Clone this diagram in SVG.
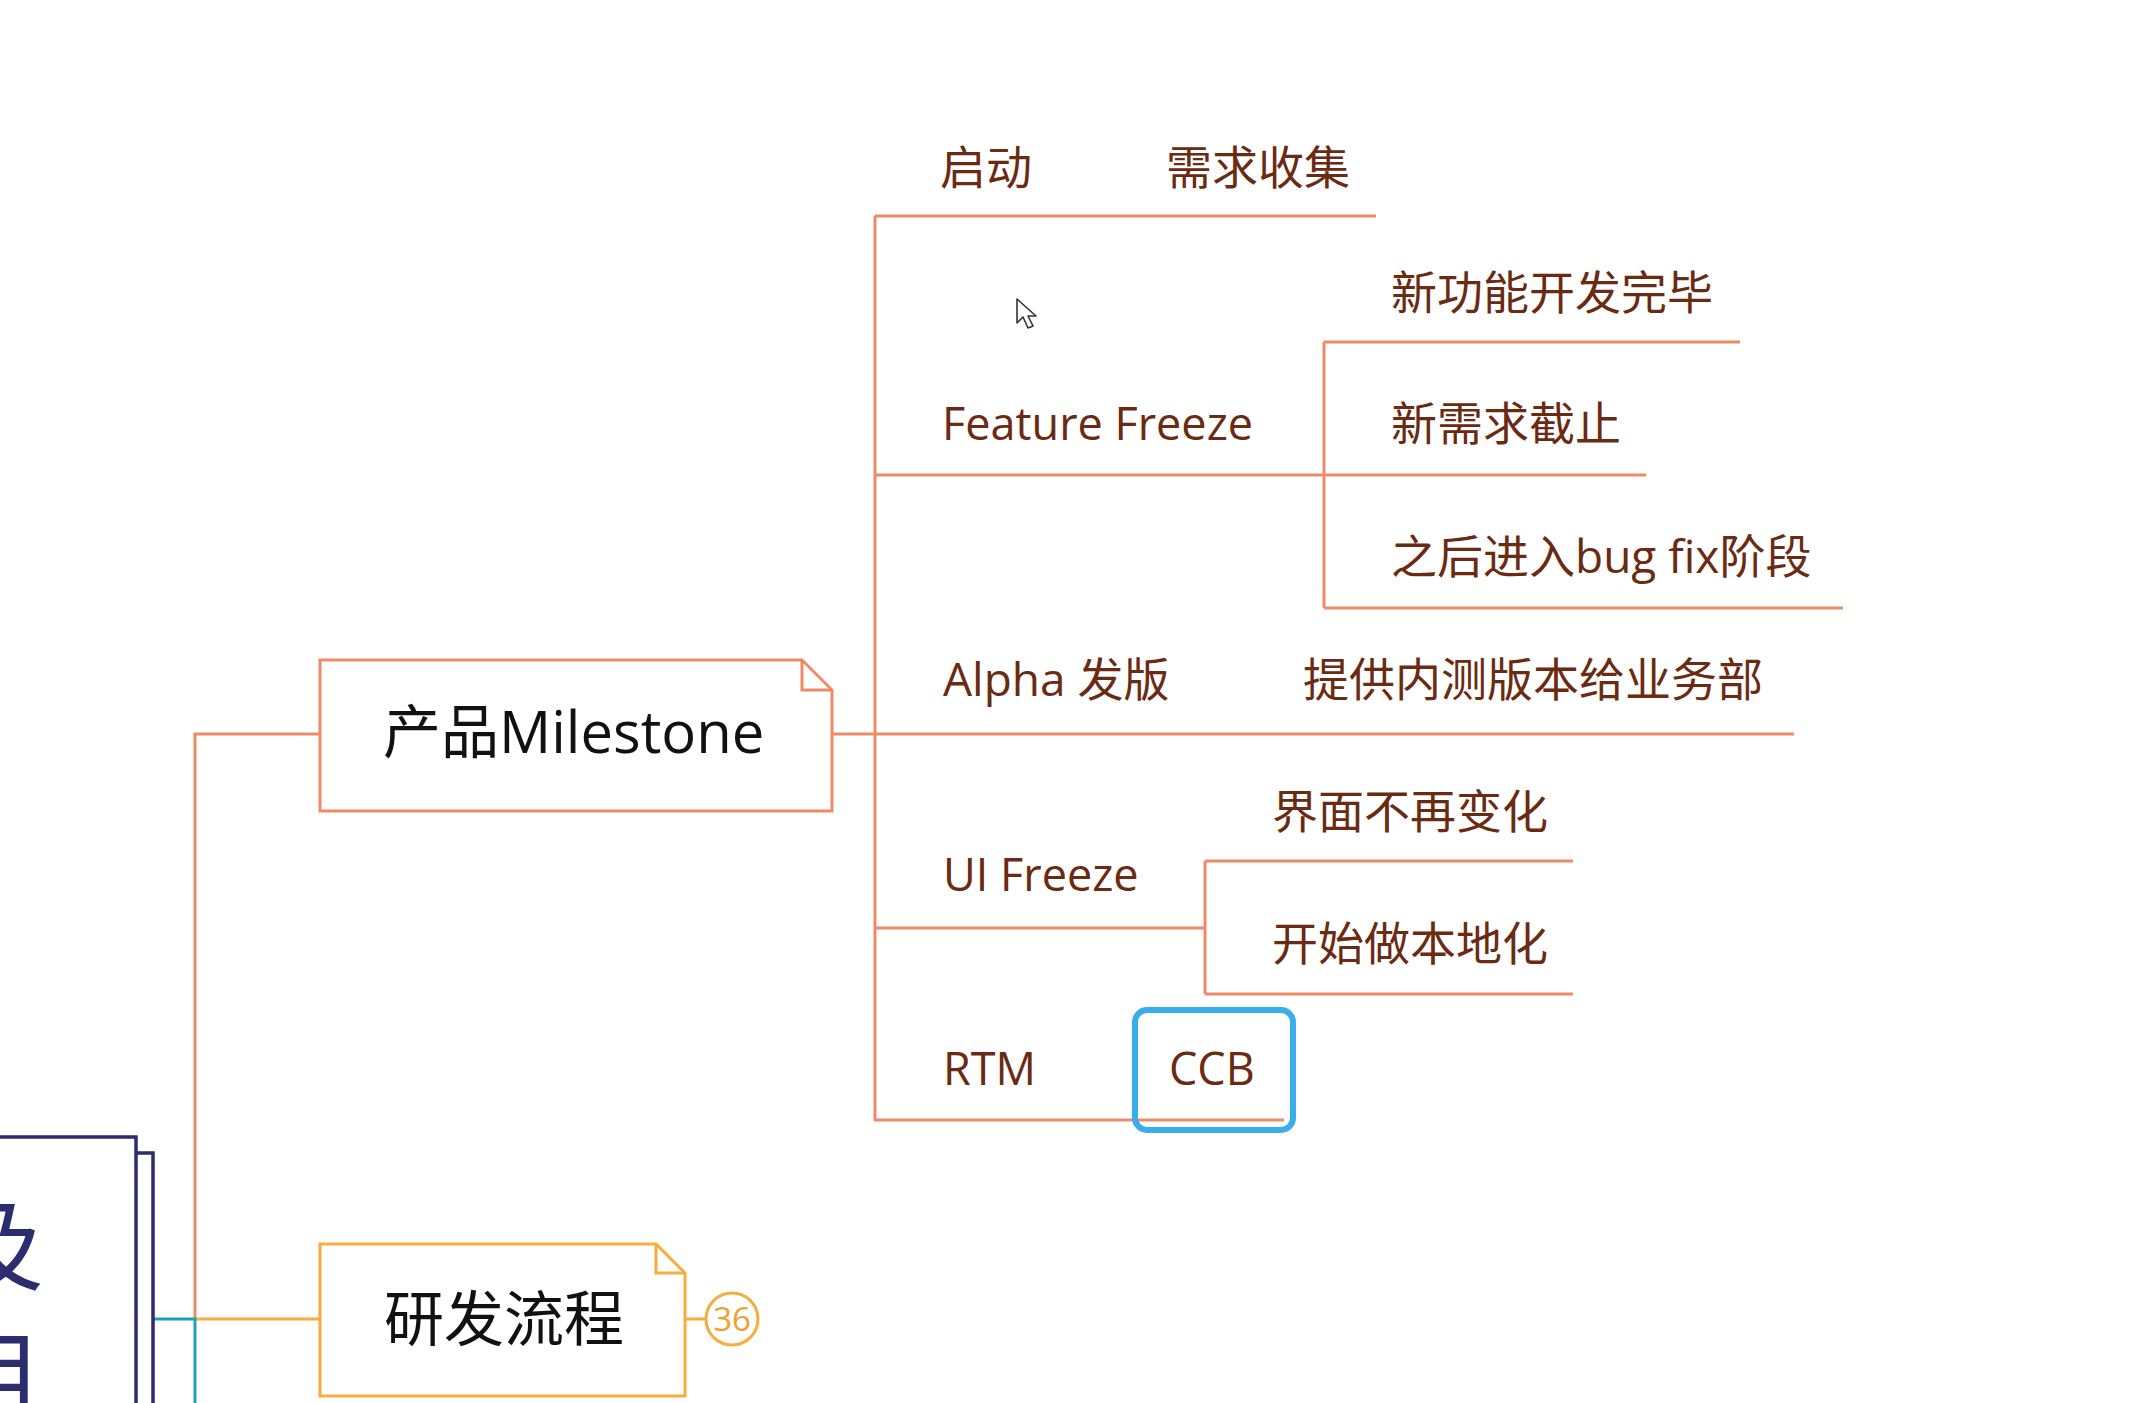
<svg xmlns="http://www.w3.org/2000/svg" width="2143" height="1403" viewBox="0 0 2143 1403">
<style>
.o{stroke:#EE8A66;stroke-width:3;fill:none}
.y{stroke:#F5AE3D;stroke-width:3;fill:none}
.tl{stroke:#1AA3B5;stroke-width:3;fill:none}
.nv{stroke:#2B2D6E;stroke-width:3.5;fill:#fff}
.t{font-family:"Open Sans","Noto Sans CJK SC",sans-serif;font-size:45px;fill:#6B2A12}
.c{font-family:"Open Sans","Noto Sans CJK SC",sans-serif;font-size:46px;fill:#6B2A12}
.big{font-family:"Open Sans","Noto Sans CJK SC",sans-serif;fill:#111}
</style>
<rect width="2143" height="1403" fill="#fff"/>
<g id="connectors">
<path class="o" d="M875,216V1121"/>
<path class="o" d="M875,216H1376"/>
<path class="o" d="M875,475H1646"/>
<path class="o" d="M832,734H1794"/>
<path class="o" d="M875,928H1205"/>
<path class="o" d="M875,1120H1284"/>
<path class="o" d="M1324,342V608M1324,342H1740M1324,608H1843"/>
<path class="o" d="M1205,861V994M1205,861H1573M1205,994H1573"/>
<path class="o" d="M195,1319V734H320"/>
<path class="y" d="M195,1319H320M685,1319H705"/>
<path class="tl" d="M153,1319H195V1403"/>
</g>
<g id="root-node">
<rect class="nv" x="-60" y="1153" width="213" height="300"/>
<rect class="nv" x="-80" y="1137" width="216" height="300"/>
<text font-family="'Noto Sans CJK SC',sans-serif" font-size="100" fill="#2B2D6E"><tspan x="-56" y="1283">及</tspan><tspan x="-56" y="1414">目</tspan></text>
</g>
<g id="node-milestone">
<path d="M320,660H802L832,690V811H320Z" fill="#fff" stroke="#EE8A66" stroke-width="3"/>
<path class="o" d="M802,660V690H832"/>
<text class="big" x="383" y="753" font-size="58">产品Milestone</text>
</g>
<g id="node-rd">
<path d="M320,1244H656L685,1273V1396H320Z" fill="#fff" stroke="#F5AE3D" stroke-width="3"/>
<path class="y" d="M656,1244V1273H685"/>
<text class="big" x="384" y="1341" font-size="60">研发流程</text>
<circle cx="732" cy="1319" r="26" fill="#fff" stroke="#F5AE3D" stroke-width="3"/>
<text x="732" y="1331" text-anchor="middle" font-family="'Open Sans',sans-serif" font-size="33" fill="#F0A030">36</text>
</g>
<g id="node-start"><text class="c" x="940" y="184">启动</text></g>
<g id="node-req"><text class="c" x="1166" y="184">需求收集</text></g>
<g id="node-ff"><text class="t" x="942" y="440">Feature Freeze</text></g>
<g id="node-ff1"><text class="c" x="1391" y="309">新功能开发完毕</text></g>
<g id="node-ff2"><text class="c" x="1391" y="440">新需求截止</text></g>
<g id="node-ff3"><text class="c" x="1391" y="573">之后进入bug fix阶段</text></g>
<g id="node-alpha"><text class="c" x="943" y="696">Alpha 发版</text></g>
<g id="node-alpha1"><text class="c" x="1303" y="696">提供内测版本给业务部</text></g>
<g id="node-ui"><text class="t" x="943" y="891">UI Freeze</text></g>
<g id="node-ui1"><text class="c" x="1272" y="828">界面不再变化</text></g>
<g id="node-ui2"><text class="c" x="1272" y="960">开始做本地化</text></g>
<g id="node-rtm"><text class="t" x="943" y="1085">RTM</text></g>
<g id="node-ccb">
<rect x="1135" y="1010" width="158" height="120" rx="12" fill="none" stroke="#3AAEEA" stroke-width="6"/>
<text class="t" x="1169" y="1085">CCB</text>
</g>
<path d="M1017,299V323L1023,317L1028,328L1033,326L1028,316L1036,316Z" fill="#fff" stroke="#333" stroke-width="1.6" stroke-linejoin="round"/>
</svg>
